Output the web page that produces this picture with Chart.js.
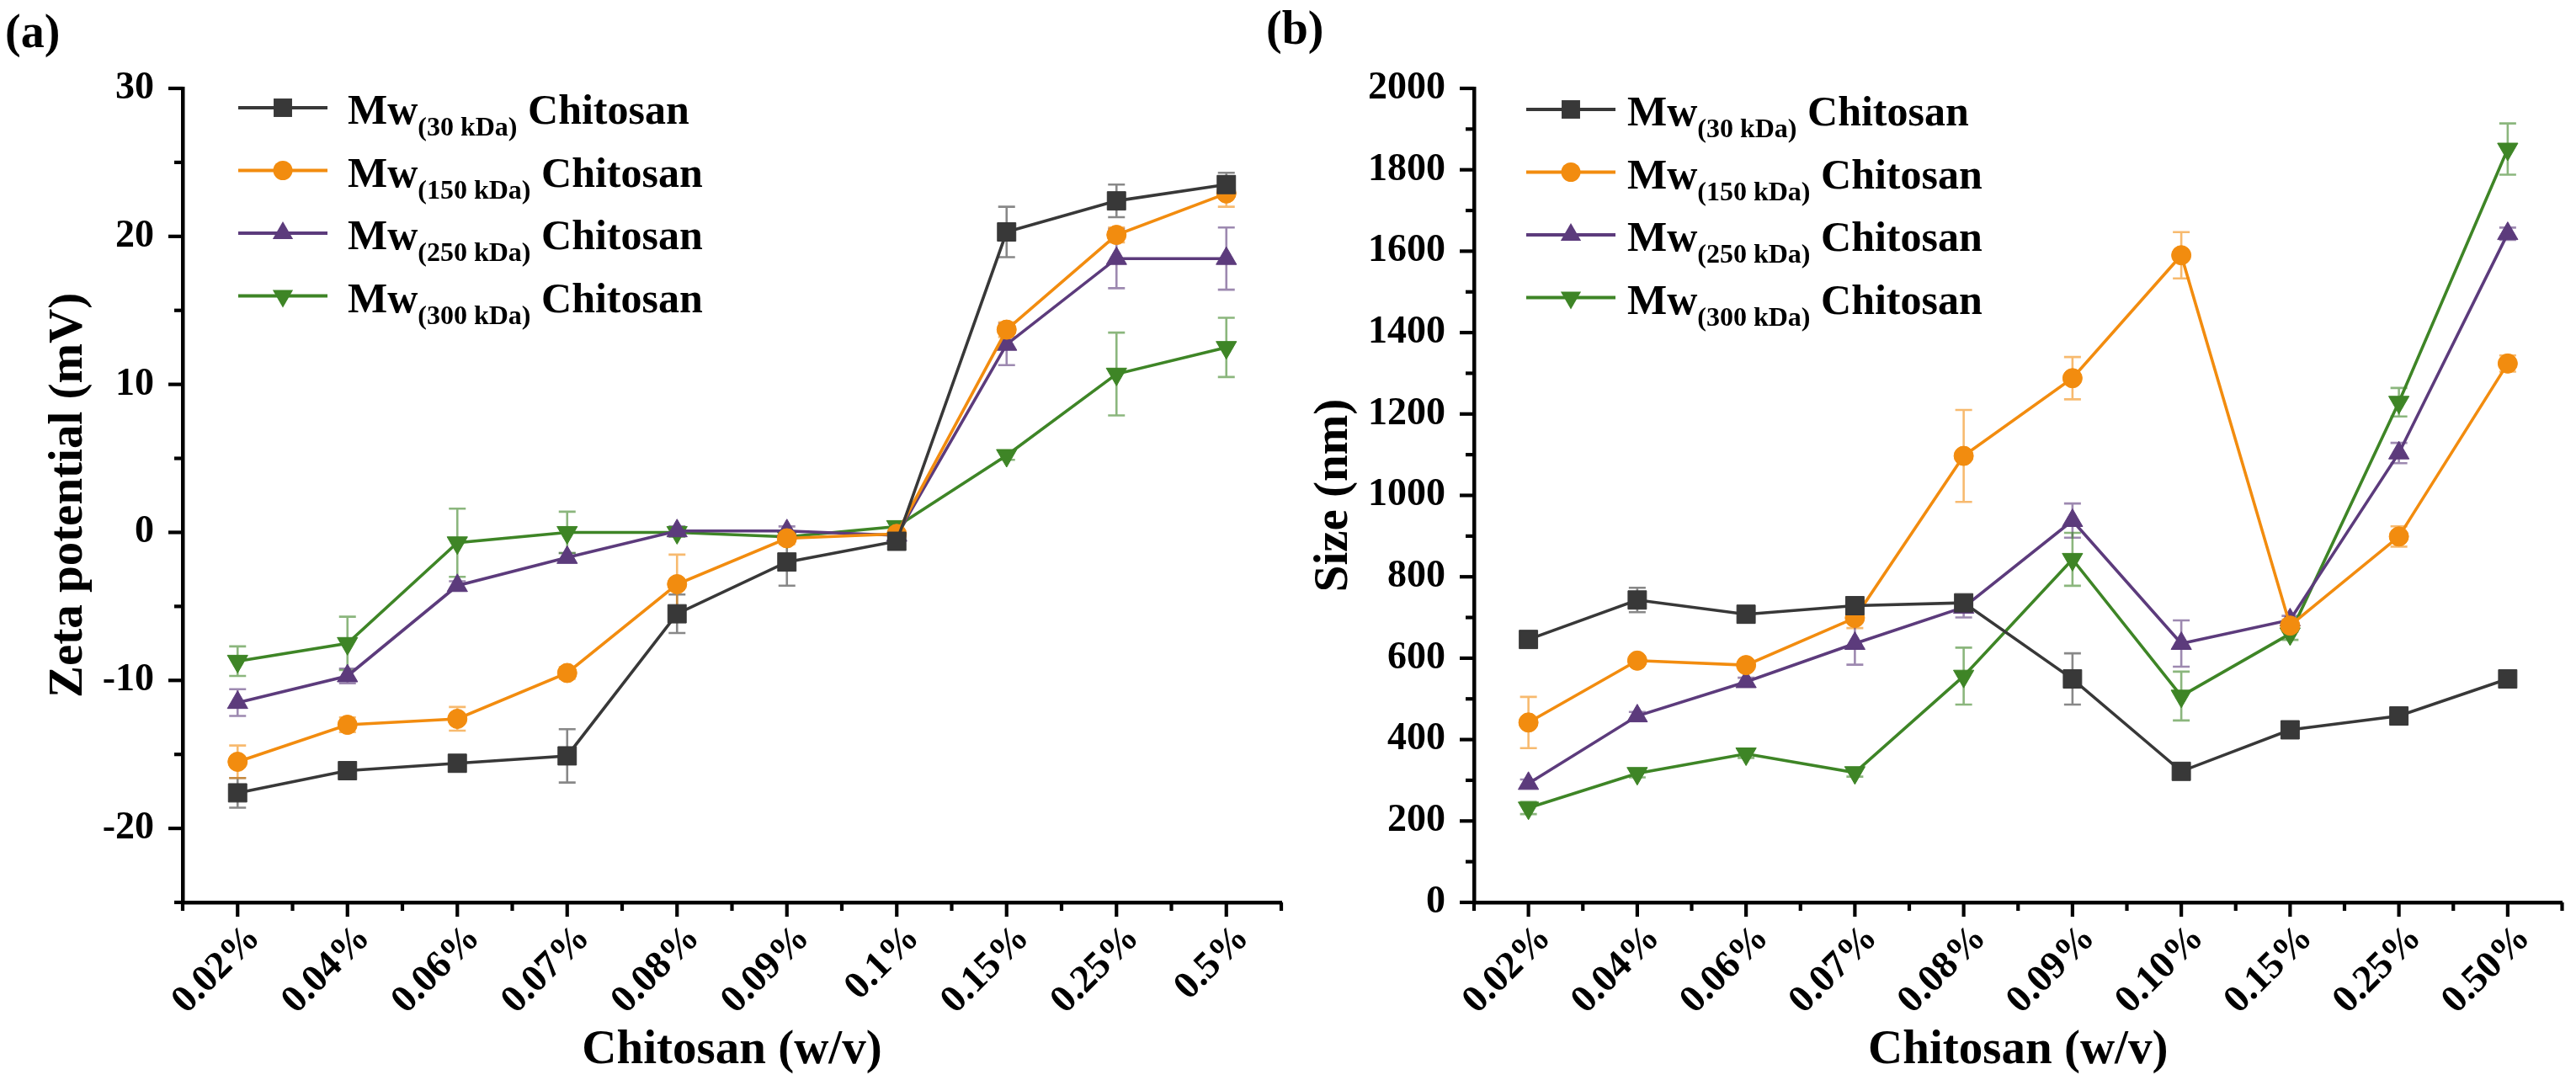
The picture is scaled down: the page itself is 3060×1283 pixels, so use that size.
<!DOCTYPE html>
<html><head><meta charset="utf-8">
<script src="https://cdn.jsdelivr.net/npm/chart.js@4.4.1/dist/chart.umd.min.js"></script>
<style>
html,body{margin:0;padding:0;background:#fff;}
body{width:3060px;height:1283px;position:relative;overflow:hidden;}
canvas{position:absolute;top:0;}
#c1{left:0;} #c2{left:1500px;}
</style></head><body>
<canvas id="c1" width="1540" height="1283"></canvas>
<canvas id="c2" width="1560" height="1283"></canvas>
<script>
// ---------- data ----------
const zetaLabels = ['0.02%','0.04%','0.06%','0.07%','0.08%','0.09%','0.1%','0.15%','0.25%','0.5%'];
const sizeLabels = ['0.02%','0.04%','0.06%','0.07%','0.08%','0.09%','0.10%','0.15%','0.25%','0.50%'];
const seriesMw = ['(30 kDa)','(150 kDa)','(250 kDa)','(300 kDa)'];

const zeta30  = [-17.6, -16.1, -15.6, -15.1, -5.5, -2.0, -0.6, 20.3, 22.4, 23.5];
const zeta30Err  = [1.0, 0.3, 0.3, 1.8, 1.3, 1.6, 0.4, 1.7, 1.1, 0.8];
const zeta150 = [-15.5, -13.0, -12.6, -9.5, -3.5, -0.4, -0.1, 13.7, 20.1, 22.9];
const zeta150Err = [1.1, 0.5, 0.8, 0.4, 2.0, 0.4, 0.2, 0.5, 0.5, 0.9];
const zeta250 = [-11.5, -9.7, -3.6, -1.7, 0.1, 0.1, -0.2, 12.7, 18.5, 18.5];
const zeta250Err = [0.9, 0.5, 0.3, 0.3, 0.3, 0.3, 0.2, 1.4, 2.0, 2.1];
const zeta300 = [-8.7, -7.5, -0.7, 0.0, 0.0, -0.3, 0.4, 5.2, 10.7, 12.5];
const zeta300Err = [1.0, 1.8, 2.3, 1.4, 0.3, 0.3, 0.3, 0.3, 2.8, 2.0];

const size30  = [646, 743, 708, 729, 736, 549, 322, 424, 458, 549];
const size30Err  = [20, 30, 10, 10, 10, 63, 15, 15, 15, 10];
const size150 = [442, 594, 583, 699, 1097, 1288, 1590, 680, 899, 1324];
const size150Err = [63, 10, 10, 25, 113, 52, 57, 15, 25, 20];
const size250 = [292, 458, 542, 636, 725, 938, 636, 694, 1104, 1643];
const size250Err = [10, 10, 10, 52, 25, 42, 57, 10, 25, 15];
const size300 = [232, 317, 365, 319, 556, 843, 507, 660, 1229, 1851];
const size300Err = [15, 10, 10, 10, 70, 65, 60, 15, 35, 63];

const zetaTicks = {min: -25, max: 30, step: 5, major: 10};
const sizeTicks = {min: 0, max: 2000, step: 100, major: 200};

// ---------- styles ----------
const COLORS = ['#383838', '#F28C0F', '#5C3B7C', '#3E8526'];
const STYLES = ['rect', 'circle', 'triangle', 'triangle'];
const ROTS = [0, 0, 0, 180];
const RADII = [15.5, 11.5, 14, 14];
const FONT = "'Liberation Serif', 'Times New Roman', Tinos, serif";
Chart.defaults.font.family = FONT;
Chart.defaults.color = '#000';

function rgba(hex, a) {
  const n = parseInt(hex.slice(1), 16);
  return `rgba(${(n>>16)&255},${(n>>8)&255},${n&255},${a})`;
}

function drawMarker(ctx, style, rot, r, x, y, color) {
  ctx.save();
  ctx.fillStyle = color;
  ctx.beginPath();
  if (style === 'rect') {
    const s = r * Math.SQRT1_2;
    ctx.rect(x - s, y - s, 2 * s, 2 * s);
  } else if (style === 'circle') {
    ctx.arc(x, y, r, 0, Math.PI * 2);
  } else {
    let a = rot * Math.PI / 180;
    ctx.moveTo(x + Math.sin(a) * r, y - Math.cos(a) * r);
    a += 2 * Math.PI / 3;
    ctx.lineTo(x + Math.sin(a) * r, y - Math.cos(a) * r);
    a += 2 * Math.PI / 3;
    ctx.lineTo(x + Math.sin(a) * r, y - Math.cos(a) * r);
  }
  ctx.closePath();
  ctx.fill();
  ctx.restore();
}

const decor = {
  id: 'decor',
  beforeDatasetsDraw(chart) {
    const ctx = chart.ctx, xs = chart.scales.x, ys = chart.scales.y;
    chart.data.datasets.forEach((ds) => {
      const errs = ds.errors;
      if (!errs) return;
      ctx.save();
      ctx.strokeStyle = rgba(ds.borderColor, 0.6);
      ctx.lineWidth = 2.6;
      ds.data.forEach((v, i) => {
        const px = xs.getPixelForValue(i);
        const yt = ys.getPixelForValue(v + errs[i]);
        const yb = ys.getPixelForValue(v - errs[i]);
        ctx.beginPath();
        ctx.moveTo(px, yt); ctx.lineTo(px, yb);
        ctx.moveTo(px - 10, yt); ctx.lineTo(px + 10, yt);
        ctx.moveTo(px - 10, yb); ctx.lineTo(px + 10, yb);
        ctx.stroke();
      });
      ctx.restore();
    });
  },
  afterDraw(chart, args, o) {
    const ctx = chart.ctx, xs = chart.scales.x, ys = chart.scales.y;
    ctx.save();
    ctx.strokeStyle = '#000';
    ctx.lineWidth = 4.2;
    const ax = chart.chartArea.left;
    ys.ticks.forEach((t) => {
      const py = ys.getPixelForValue(t.value);
      const isMajor = Math.abs(t.value % o.major) < 1e-9;
      const len = isMajor ? 17 : 10;
      ctx.beginPath(); ctx.moveTo(ax - len, py); ctx.lineTo(ax, py); ctx.stroke();
    });
    const ay = chart.chartArea.bottom;
    const n = chart.data.labels.length;
    for (let i = 0; i < n; i++) {
      const px = xs.getPixelForValue(i);
      ctx.beginPath(); ctx.moveTo(px, ay); ctx.lineTo(px, ay + 17); ctx.stroke();
    }
    for (let i = 0; i <= n; i++) {
      const px = xs.getPixelForValue(i - 0.5);
      ctx.beginPath(); ctx.moveTo(px, ay); ctx.lineTo(px, ay + 10); ctx.stroke();
    }
    ctx.restore();

    ctx.save();
    chart.data.datasets.forEach((ds, i) => {
      const y = o.legY + i * o.legDY;
      ctx.strokeStyle = ds.borderColor;
      ctx.lineWidth = 4;
      ctx.beginPath(); ctx.moveTo(o.legX0, y); ctx.lineTo(o.legX1, y); ctx.stroke();
      drawMarker(ctx, STYLES[i], ROTS[i], RADII[i], (o.legX0 + o.legX1) / 2, y, ds.borderColor);
      let x = o.legText;
      const base = y + 19;
      ctx.fillStyle = '#000';
      ctx.textBaseline = 'alphabetic';
      ctx.textAlign = 'left';
      ctx.font = `bold 50px ${FONT}`;
      ctx.fillText('Mw', x, base);
      x += ctx.measureText('Mw').width;
      ctx.font = `bold 32px ${FONT}`;
      ctx.fillText(seriesMw[i], x, base + 14);
      x += ctx.measureText(seriesMw[i]).width;
      ctx.font = `bold 50px ${FONT}`;
      ctx.fillText(' Chitosan', x, base);
    });
    ctx.font = `bold 56px ${FONT}`;
    ctx.fillStyle = '#000';
    ctx.fillText(o.panel, o.panelX, o.panelY);
    ctx.restore();
  }
};

function makeChart(id, labels, series, errs, tk, yTitle, geom) {
  const datasets = series.map((d, i) => ({
    label: 'Mw' + seriesMw[i] + ' Chitosan',
    data: d,
    errors: errs[i],
    borderColor: COLORS[i],
    backgroundColor: COLORS[i],
    pointBackgroundColor: COLORS[i],
    pointBorderColor: COLORS[i],
    pointBorderWidth: 1,
    pointStyle: STYLES[i],
    rotation: ROTS[i],
    pointRadius: RADII[i],
    borderWidth: 3.6,
    tension: 0,
    fill: false
  }));
  return new Chart(document.getElementById(id), {
    type: 'line',
    data: {labels, datasets},
    plugins: [decor],
    options: {
      responsive: false,
      animation: false,
      devicePixelRatio: 1,
      layout: {padding: {top: 105, left: 0, right: geom.padRight, bottom: 0}},
      plugins: {
        legend: {display: false},
        tooltip: {enabled: false},
        decor: Object.assign({major: tk.major}, geom.decor)
      },
      scales: {
        x: {
          type: 'category',
          offset: true,
          grid: {display: true, drawOnChartArea: false, drawTicks: false},
          border: {display: true, color: '#000', width: 4.5},
          ticks: {
            autoSkip: false, minRotation: 45, maxRotation: 45,
            padding: 16, labelOffset: 20,
            font: {size: 46, weight: 'bold', family: FONT}, color: '#000'
          },
          title: {display: true, text: 'Chitosan (w/v)', font: {size: 57, weight: 'bold', family: FONT}, color: '#000', padding: {top: 0, bottom: 1}},
          afterFit(s) { s.height = 211; }
        },
        y: {
          type: 'linear',
          min: tk.min, max: tk.max,
          grid: {display: true, drawOnChartArea: false, drawTicks: false},
          border: {display: true, color: '#000', width: 4.5},
          ticks: {
            stepSize: tk.step, autoSkip: false, maxTicksLimit: 1000, padding: 34,
            font: {size: 46, weight: 'bold', family: FONT}, color: '#000',
            callback: (v) => (Math.abs(v % tk.major) < 1e-9 ? String(v) : '')
          },
          title: {display: true, text: yTitle, font: {size: 57, weight: 'bold', family: FONT}, color: '#000', padding: {top: geom.yTitlePad, bottom: 0}},
          afterFit(s) { s.width = geom.yWidth; }
        }
      }
    }
  });
}

makeChart('c1', zetaLabels,
  [zeta30, zeta150, zeta250, zeta300],
  [zeta30Err, zeta150Err, zeta250Err, zeta300Err],
  zetaTicks, 'Zeta potential (mV)',
  {padRight: 18, yWidth: 217, yTitlePad: 48,
   decor: {legX0: 283, legX1: 389, legText: 413, legY: 128, legDY: 74.5, panel: '(a)', panelX: 6, panelY: 56}});

makeChart('c2', sizeLabels,
  [size30, size150, size250, size300],
  [size30Err, size150Err, size250Err, size300Err],
  sizeTicks, 'Size (nm)',
  {padRight: 4, yWidth: 251, yTitlePad: 51,
   decor: {legX0: 313, legX1: 419, legText: 433, legY: 130, legDY: 74.5, panel: '(b)', panelX: 4, panelY: 52}});
</script>
</body></html>
